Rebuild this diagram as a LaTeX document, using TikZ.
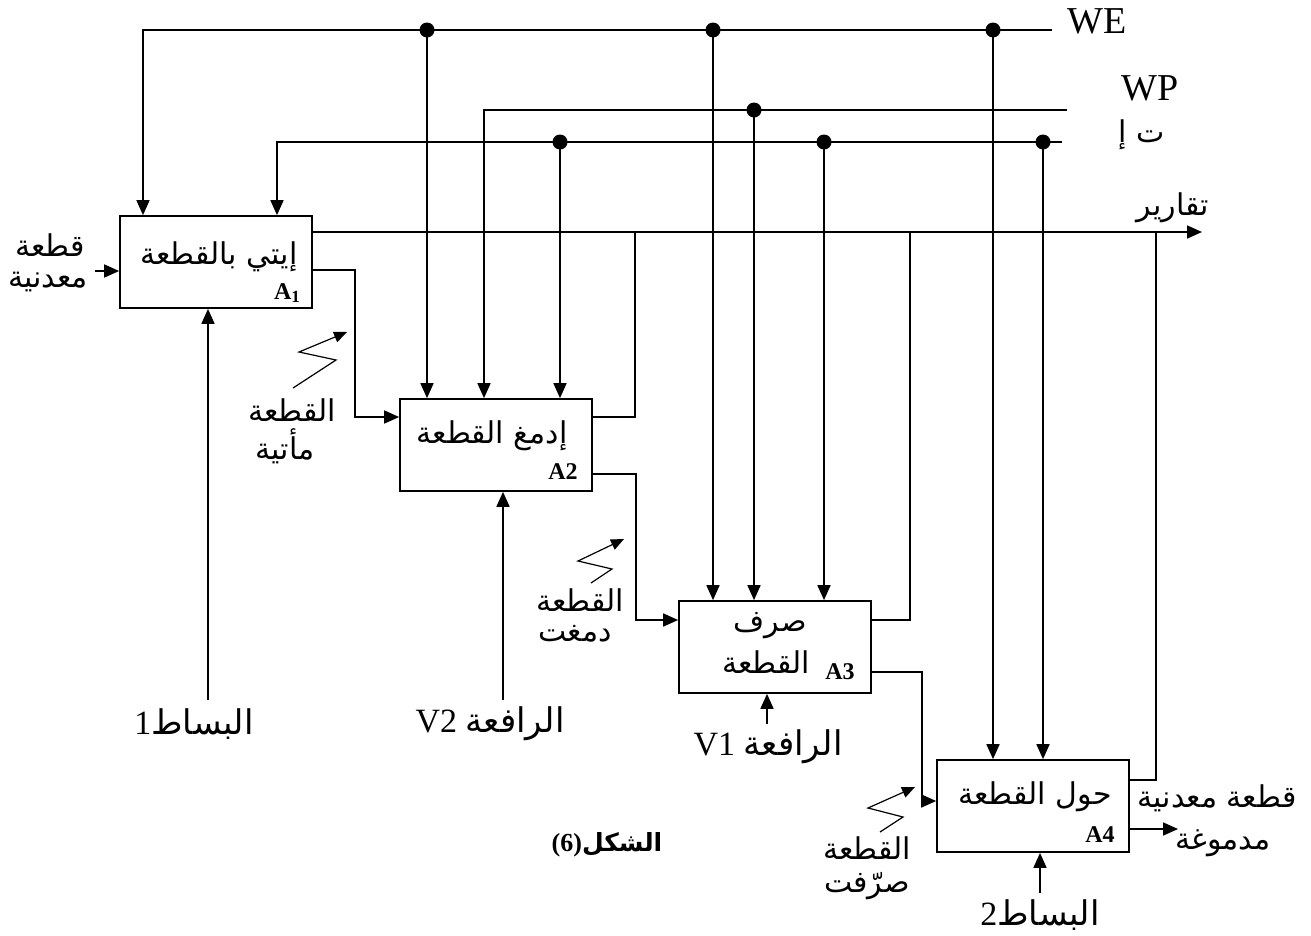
\documentclass[tikz,border=0pt]{standalone}
\usepackage{fontspec}
\setmainfont{Liberation Serif}
\newfontfamily\arf[Script=Arabic]{DejaVu Sans}
\TeXXeTstate=1
\usetikzlibrary{arrows.meta}
\newcommand{\AR}[1]{{\arf\beginR #1\endR}}
\newcommand{\arsize}{\fontsize{30}{34}\selectfont}
\begin{document}
\begin{tikzpicture}[x=1pt,y=-1pt,
  ln/.style={line width=1.7pt},
  arr/.style={line width=1.7pt,-{Triangle[length=15pt,width=13pt]}},
  box/.style={draw,line width=1.7pt,minimum width=192pt,minimum height=92pt,inner sep=0pt},
  dot/.style={circle,fill,inner sep=0pt,minimum size=15pt},
  zz/.style={line width=1.2pt,-{Triangle[length=13pt,width=11pt]}},
  arl/.style={font=\arsize,inner sep=0pt},
  lat/.style={font=\fontsize{38}{40}\selectfont,inner sep=0pt},
  mech/.style={font=\fontsize{34}{36}\selectfont,inner sep=0pt},
  blab/.style={font=\fontsize{24}{26}\selectfont\bfseries,inner sep=0pt}]
\useasboundingbox[fill=white] (0,0) rectangle (1311,935);

% boxes
\node[box] (A1) at (216,262) {};
\node[box] (A2) at (496,445) {};
\node[box] (A3) at (775,647) {};
\node[box] (A4) at (1033,806) {};

% box texts
\node[arl] (t1) at (219,257) {\AR{إيتي بالقطعة}};
\node[blab] (l1) at (287,293) {A\raisebox{-3pt}{\fontsize{17}{17}\selectfont 1}};
\node[arl] (t2) at (492,436) {\AR{إدمغ القطعة}};
\node[blab] (l2) at (563,472) {A2};
\node[arl] (t3a) at (770,626) {\AR{صرف}};
\node[arl] (t3b) at (766,662) {\AR{القطعة}};
\node[blab] (l3) at (840,672) {A3};
\node[arl] (t4) at (1035,797) {\AR{حول القطعة}};
\node[blab] (l4) at (1100,835) {A4};

% bus labels
\node[lat] (WE) at (1097,21) {WE};
\node[lat] (WP) at (1150,88) {WP};
\node[arl] (TI) at (1142,135) {\AR{ت إ}};
\node[arl] (REP) at (1173,208) {\AR{تقارير}};

% bus coordinates
\coordinate (weE) at (1052,30);
\coordinate (wpE) at (1067,110);
\coordinate (tiE) at (1062,142);
\coordinate (weW) at (143,30);
\coordinate (wpW) at (484,110);
\coordinate (tiW) at (277,142);
\coordinate (dWE1) at (427,30);
\coordinate (dWE2) at (713,30);
\coordinate (dWE3) at (993,30);
\coordinate (dWP1) at (754,110);
\coordinate (dTI1) at (560,142);
\coordinate (dTI2) at (824,142);
\coordinate (dTI3) at (1043,142);

% buses
\draw[arr] (weE) -- (weW) -- (weW |- A1.north);
\draw[arr] (wpE) -- (wpW) -- (wpW |- A2.north);
\draw[arr] (tiE) -- (tiW) -- (tiW |- A1.north);
\draw[arr] (dWE1) -- (dWE1 |- A2.north);
\draw[arr] (dWE2) -- (dWE2 |- A3.north);
\draw[arr] (dWE3) -- (dWE3 |- A4.north);
\draw[line width=2.6pt] (dWE3) -- ++(0,65);
\draw[arr] (dWP1) -- (dWP1 |- A3.north);
\draw[arr] (dTI1) -- (dTI1 |- A2.north);
\draw[arr] (dTI2) -- (dTI2 |- A3.north);
\draw[arr] (dTI3) -- (dTI3 |- A4.north);
\foreach \d in {dWE1,dWE2,dWE3,dWP1,dTI1,dTI2,dTI3}
  \node[dot] at (\d) {};

% reports line
\coordinate (rep) at (1202,232);
\draw[arr] (rep -| A1.east) -- (rep);

% outputs
\coordinate (o1) at (355,270);
\coordinate (i2) at (355,417);
\draw[arr] (o1 -| A1.east) -- (o1) -- (i2) -- (i2 -| A2.west);
\coordinate (o2a) at (635,417);
\draw[ln] (o2a -| A2.east) -- (o2a) -- (o2a |- rep);
\coordinate (o2b) at (636,474);
\coordinate (i3) at (636,620);
\draw[arr] (o2b -| A2.east) -- (o2b) -- (i3) -- (i3 -| A3.west);
\coordinate (o3a) at (910,620);
\draw[ln] (o3a -| A3.east) -- (o3a) -- (o3a |- rep);
\coordinate (o3b) at (922,672);
\coordinate (i4) at (922,801);
\draw[arr] (o3b -| A3.east) -- (o3b) -- (i4) -- (i4 -| A4.west);
\coordinate (o4a) at (1156,780);
\draw[ln] (o4a -| A4.east) -- (o4a) -- (o4a |- rep);
\coordinate (o4b) at (1178,829);
\draw[arr] (o4b -| A4.east) -- (o4b);

% input to A1
\coordinate (in1) at (95,271);
\draw[arr] (in1) -- (in1 -| A1.west);
\node[arl] (inL1) at (50,245) {\AR{قطعة}};
\node[arl] (inL2) at (48,282) {\AR{معدنية}};

% mechanisms
\coordinate (m1) at (208,700);
\coordinate (m2) at (503,700);
\coordinate (m3) at (767,724);
\coordinate (m4) at (1040,893);
\draw[arr] (m1) -- (m1 |- A1.south);
\draw[arr] (m2) -- (m2 |- A2.south);
\draw[arr] (m3) -- (m3 |- A3.south);
\draw[arr] (m4) -- (m4 |- A4.south);
\node[mech] (ml1) at (194,724) {1\AR{البساط}};
\node[mech] (ml2) at (490,724) {V2 \AR{الرافعة}};
\node[mech] (ml3) at (768,747) {V1 \AR{الرافعة}};
\node[mech] (ml4) at (1040,915) {2\AR{البساط}};

% lightning arrows
\draw[zz] (293,388) -- (336,360) -- (299,352) -- (347,332);
\draw[zz] (591,583) -- (612,569) -- (578,561) -- (624,539);
\draw[zz] (880,832) -- (903,817) -- (868,808) -- (915,787);
\node[arl] (z1a) at (292,410) {\AR{القطعة}};
\node[arl] (z1b) at (285,446) {\AR{مأتية}};
\node[arl] (z2a) at (580,600) {\AR{القطعة}};
\node[arl] (z2b) at (575,634) {\AR{دمغت}};
\node[arl] (z3a) at (867,848) {\AR{القطعة}};
\node[arl] (z3b) at (867,886) {\AR{صرّفت}};

% output labels
\node[arl] (outL1) at (1217,798) {\AR{قطعة معدنية}};
\node[arl] (outL2) at (1223,843) {\AR{مدموغة}};

% caption
\node[inner sep=0pt] (cap) at (607,845) {{\fontsize{26}{28}\selectfont\bfseries (6)}{\fontsize{25}{28}\selectfont\arf\bfseries الشكل}};
\end{tikzpicture}
\end{document}
